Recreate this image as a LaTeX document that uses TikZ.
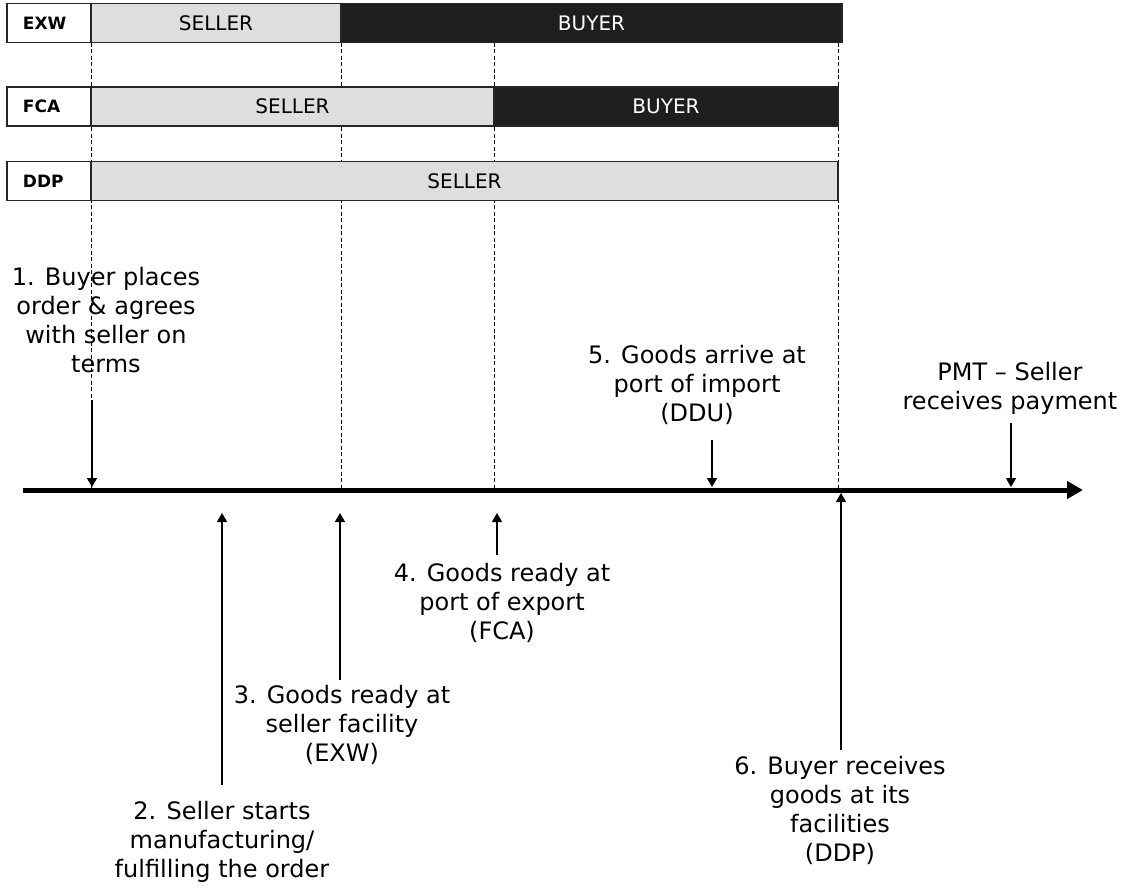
\documentclass[tikz,border=0pt]{standalone}
\usepackage{fontspec}
\setmainfont{DejaVu Sans}
\usetikzlibrary{positioning,arrows.meta,backgrounds}
\definecolor{sellergray}{HTML}{DEDEDE}
\definecolor{buyerblack}{HTML}{1E1E1E}
\tikzstyle{term} = [rectangle,
                    draw=black!85,
                    line width=1.4pt,
                    fill=white,
                    minimum height=39pt,
                    text width=52pt,
                    inner xsep=16pt,
                    inner ysep=0pt,
                    outer sep=0pt,
                    align=left,
                    font=\fontsize{17}{20}\selectfont\bfseries]
\tikzstyle{seller} = [rectangle,
                      draw=black!85,
                      line width=1.4pt,
                      fill=sellergray,
                      minimum height=39pt,
                      inner sep=0pt,
                      outer sep=0pt,
                      font=\fontsize{20}{23}\selectfont]
\tikzstyle{buyer} = [seller, fill=buyerblack, text=white]
\tikzstyle{event} = [align=center,
                     inner sep=0pt,
                     font=\fontsize{24}{29}\selectfont]
\tikzstyle{timeline} = [line width=5pt, -{Triangle[length=16pt,width=17pt]}]
\tikzstyle{guide} = [dash pattern=on 4pt off 2.5pt, line width=1pt]
\tikzstyle{evt} = [line width=1.6pt, -{Triangle[length=9pt,width=10pt]}]

\begin{document}
\begin{tikzpicture}[x=1pt,y=-1pt]
    \useasboundingbox (0,0) rectangle (1125,892);
    % incoterm bars
    \node (exw) [term] at (49,23) {EXW};
    \node (exwsell) [seller, minimum width=250pt, right=0pt of exw] {SELLER};
    \node (exwbuy) [buyer, minimum width=501pt, right=0pt of exwsell] {BUYER};
    \node (fca) [term, below=44.5pt of exw] {FCA};
    \node (fcasell) [seller, minimum width=403pt, right=0pt of fca] {SELLER};
    \node (fcabuy) [buyer, minimum width=344pt, right=0pt of fcasell] {BUYER};
    \node (ddp) [term, below=35.5pt of fca] {DDP};
    \node (ddpsell) [seller, minimum width=747pt, right=0pt of ddp] {SELLER};

    % time line
    \coordinate (tl0) at (23,490);
    \coordinate (tl1) at (1083,490);
    \coordinate (tltop) at (23,487);
    \coordinate (tlbot) at (23,493);
    \coordinate (tlgap) at (23,513);
    \draw[timeline] (tl0) -- (tl1);

    \begin{scope}[on background layer]
      \foreach \n in {exw,exwsell,fcasell,ddpsell}
        \draw[guide] (\n.south east |- exw.south) -- (\n.south east |- tl0);
    \end{scope}

    % events
    \node (ev1) [event] at (106,320) {1. Buyer places\\order \& agrees\\with seller on\\terms};
    \node (ev2) [event] at (222,842) {2. Seller starts\\manufacturing/\\fulfilling the order};
    \node (ev3) [event] at (342,725) {3. Goods ready at\\seller facility\\(EXW)};
    \node (ev4) [event] at (502,603) {4. Goods ready at\\port of export\\(FCA)};
    \node (ev5) [event] at (697,385) {5. Goods arrive at\\port of import\\(DDU)};
    \node (ev6) [event] at (840,810) {6. Buyer receives\\goods at its\\facilities\\(DDP)};
    \node (pmt) [event] at (1010,388) {PMT -- Seller\\receives payment};

    \coordinate (a1) at (92,400);
    \coordinate (a2) at (222,785);
    \coordinate (a3) at (340,680);
    \coordinate (a4) at (497,555);
    \coordinate (a5) at (712,440);
    \coordinate (a6) at (841,750);
    \coordinate (a7) at (1011,423);
    \path[evt]
      (a1) edge (a1 |- tltop)
      (a2) edge (a2 |- tlgap)
      (a3) edge (a3 |- tlgap)
      (a4) edge (a4 |- tlgap)
      (a5) edge (a5 |- tltop)
      (a6) edge (a6 |- tlbot)
      (a7) edge (a7 |- tltop);
\end{tikzpicture}
\end{document}
